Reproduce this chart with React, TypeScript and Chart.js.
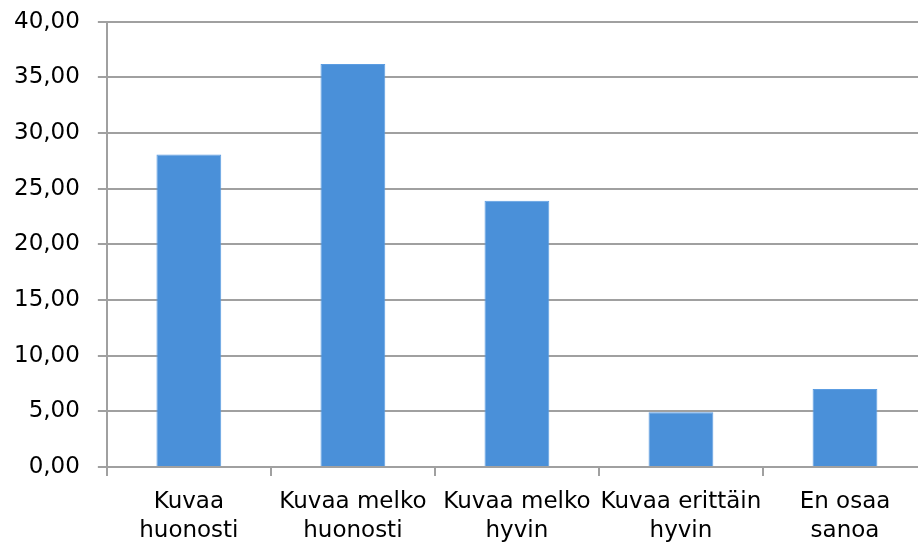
import React, { useEffect, useRef } from "react";
import { Chart, registerables } from "chart.js";

Chart.register(...registerables);

const categories: string[][] = [
  ["Kuvaa", "huonosti"],
  ["Kuvaa melko", "huonosti"],
  ["Kuvaa melko", "hyvin"],
  ["Kuvaa erittäin", "hyvin"],
  ["En osaa", "sanoa"],
];
const values: number[] = [28.07, 36.2, 23.93, 4.93, 7.0];
const yMin = 0;
const yMax = 40;
const yStep = 5;

const FONT = "'DejaVu Sans', Verdana, sans-serif";
const GRID = "#a0a0a0";

export default function App() {
  const ref = useRef<HTMLCanvasElement>(null);
  useEffect(() => {
    if (!ref.current) return;
    const chart = new Chart(ref.current, {
      type: "bar",
      data: {
        labels: categories,
        datasets: [
          {
            data: values,
            backgroundColor: "#4a90d9",
            borderColor: "#5c9de2",
            borderWidth: 1,
            categoryPercentage: 1,
            barPercentage: 0.395,
          },
        ],
      },
      options: {
        animation: false,
        responsive: false,
        maintainAspectRatio: false,
        layout: { padding: { left: 0, right: 0, top: 0, bottom: 0 } },
        plugins: { legend: { display: false }, tooltip: { enabled: false } },
        scales: {
          x: {
            grid: {
              drawOnChartArea: false,
              drawTicks: true,
              tickLength: 9,
              color: GRID,
              lineWidth: 2,
            },
            border: { display: true, color: GRID, width: 2 },
            ticks: {
              color: "#000",
              padding: 12,
              maxRotation: 0,
              autoSkip: false,
              font: { family: FONT, size: 23, lineHeight: 1.26 },
            },
          },
          y: {
            min: yMin,
            max: yMax,
            grid: { color: GRID, lineWidth: 2, tickLength: 9 },
            border: { display: true, color: GRID, width: 2 },
            ticks: {
              stepSize: yStep,
              color: "#000",
              padding: 18,
              font: { family: FONT, size: 23 },
              callback: (v: any) => Number(v).toFixed(2).replace(".", ","),
            },
          },
        },
      },
    });
    return () => chart.destroy();
  }, []);
  return (
    <div
      style={{
        position: "fixed",
        left: 0,
        top: 0,
        width: 918,
        height: 549,
        overflow: "hidden",
        background: "#fff",
      }}
    >
      <canvas
        ref={ref}
        width={931}
        height={568}
        style={{ width: 931, height: 568, position: "absolute", left: -4, top: -10 }}
      />
    </div>
  );
}
